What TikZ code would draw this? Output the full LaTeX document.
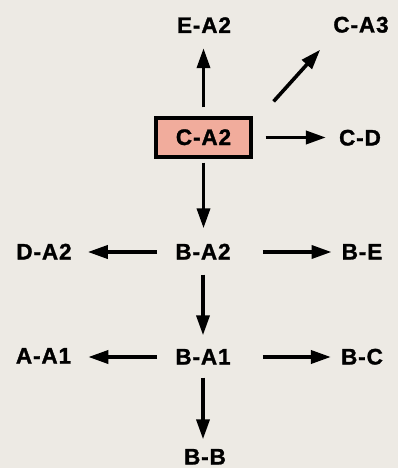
\documentclass[tikz,border=0pt]{standalone}
\usepackage{fontspec}
\setmainfont{Liberation Sans}
\usetikzlibrary{arrows.meta}
\definecolor{paper}{RGB}{237,234,228}
\definecolor{boxfill}{RGB}{241,172,156}
\tikzset{
  lbl/.style={inner sep=0pt, text height=15pt, text depth=0pt,
    font=\fontsize{22.5}{22.5}\selectfont\bfseries\addfontfeatures{LetterSpace=4,FakeBold=1.3}},
  boxed/.style={lbl, draw=black, line width=3.2pt, fill=boxfill,
    minimum width=95pt, minimum height=39pt},
  arr/.style={line width=3.6pt, -{Triangle[length=20pt,width=13pt]}}
}
\begin{document}
\begin{tikzpicture}[x=1pt,y=-1pt]
\fill[paper] (0,0) rectangle (398,468);
\useasboundingbox (0,0) rectangle (398,468);
\node[lbl] (ea2) at (204,25.5) {E-A2};
\node[lbl] (ca3) at (361,25) {C-A3};
\node[boxed] (ca2) at (203.5,137.5) {C-A2};
\node[lbl] (cd) at (360,138) {C-D};
\node[lbl] (da2) at (44,252) {D-A2};
\node[lbl] (ba2) at (203,252) {B-A2};
\node[lbl] (be) at (362,252) {B-E};
\node[lbl] (aa1) at (43.5,356) {A-A1};
\node[lbl] (ba1) at (203,357) {B-A1};
\node[lbl] (bc) at (362,357) {B-C};
\node[lbl] (bb) at (205,457) {B-B};
\draw[arr, shorten <=9pt, shorten >=15pt] (ca2.north) -- (ca2.north |- ea2.south);
\draw[arr] ([shift={(21,-15)}]ca2.north east) -- ([shift={(-13,17)}]ca3.south west);
\draw[arr, shorten <=13pt, shorten >=13pt] (ca2.east) -- (ca2.east -| cd.west);
\draw[arr, shorten <=4pt, shorten >=16pt] (ca2.south) -- (ca2.south |- ba2.north);
\draw[arr, shorten <=18pt, shorten >=16pt] (ba2.west) -- (ba2.west -| da2.east);
\draw[arr, shorten <=32pt, shorten >=10pt] (ba2.east) -- (ba2.east -| be.west);
\draw[arr, shorten <=15pt, shorten >=14pt] (ba2.south) -- (ba2.south |- ba1.north);
\draw[arr, shorten <=18pt, shorten >=17pt] (ba1.west) -- (ba1.west -| aa1.east);
\draw[arr, shorten <=32pt, shorten >=10pt] (ba1.east) -- (ba1.east -| bc.west);
\draw[arr, shorten <=13pt, shorten >=10pt] (ba1.south) -- (ba1.south |- bb.north);
\end{tikzpicture}
\end{document}
